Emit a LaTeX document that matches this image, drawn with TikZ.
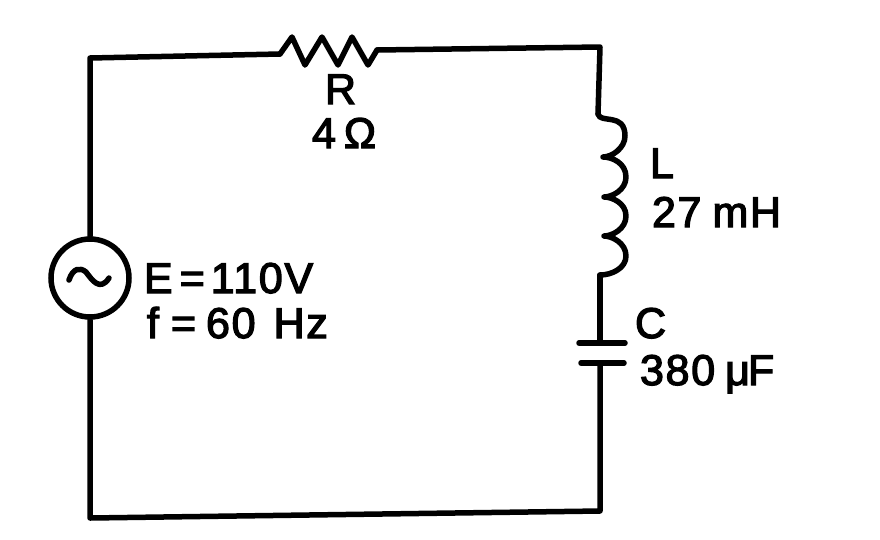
\documentclass[tikz,border=0pt]{standalone}
\usepackage{fontspec}
\newfontfamily\labfont[FakeBold=3,LetterSpace=4]{Liberation Sans}
\tikzset{
  wire/.style={line width=5.5pt,line cap=round,line join=round},
  lab/.style={anchor=base west,inner sep=0pt,outer sep=0pt,font=\labfont\fontsize{43}{43}\selectfont},
  srcnode/.style={circle,draw,line width=5.5pt,minimum size=78pt,inner sep=0pt}
}
\begin{document}
\begin{tikzpicture}[x=1pt,y=-1pt]
\useasboundingbox (0,0) rectangle (880,539);
\fill[white] (0,0) rectangle (880,539);
\node[srcnode] (src) at (90,278) {};
\coordinate (tl) at (90,58);
\coordinate (bl) at (90,518);
\coordinate (br) at (600,511);
\coordinate (tr) at (600,47);
\coordinate (rA) at (280,54);
\coordinate (rB) at (377,50);
\coordinate (lA) at (598,114);
\coordinate (lB) at (600,275);
\coordinate (cA) at (600,343);
\coordinate (cB) at (600,363);
% wires
\draw[wire] (src.north) -- (tl) -- (rA);
\draw[wire] (rB) -- (tr) -- (lA);
\draw[wire] (lB) -- (cA);
\draw[wire] (cB) -- (br) -- (bl) -- (src.south);
% resistor
\draw[wire] (rA) -- (292,37) -- (305,65) -- (322,37) -- (338,65) -- (352,37) -- (368,65) -- (rB);
% inductor
\draw[wire] (lA) .. controls (600,124) and (625,112) .. (625,136)
  .. controls (625,148) and (612,157) .. (603,157)
  .. controls (612,157) and (626,163) .. (626,177)
  .. controls (626,190) and (612,197) .. (604,197)
  .. controls (612,197) and (626,203) .. (626,216)
  .. controls (626,229) and (612,236) .. (604,236)
  .. controls (612,236) and (626,243) .. (626,256)
  .. controls (626,268) and (612,275) .. (lB);
% capacitor
\draw[wire] (579,343) -- (625,343);
\draw[wire] (581,363) -- (624,363);
% sine
\draw[wire] (69,280) .. controls (73,268) and (80,267) .. (86,272)
  .. controls (92,280) and (100,292) .. (109,278);
% labels
\node[lab] (labR) at (325,104) {R};
\node[lab] (labOhm) at (312,148) {4\hspace{8pt}Ω};
\node[lab] (labL) at (650,178) {L};
\node[lab] (labLv) at (652,227) {27\hspace{11pt}mH};
\node[lab] (labC) at (635,338) {C};
\node[lab] (labCv) at (640,385) {380\hspace{10pt}μ\hspace{-2pt}F};
\node[lab] (labE) at (144,293) {E\hspace{7pt}=\hspace{6pt}110V};
\node[lab] (labf) at (147,338) {f\hspace{12pt}=\hspace{10pt}60\hspace{18pt}Hz};
\end{tikzpicture}
\end{document}
